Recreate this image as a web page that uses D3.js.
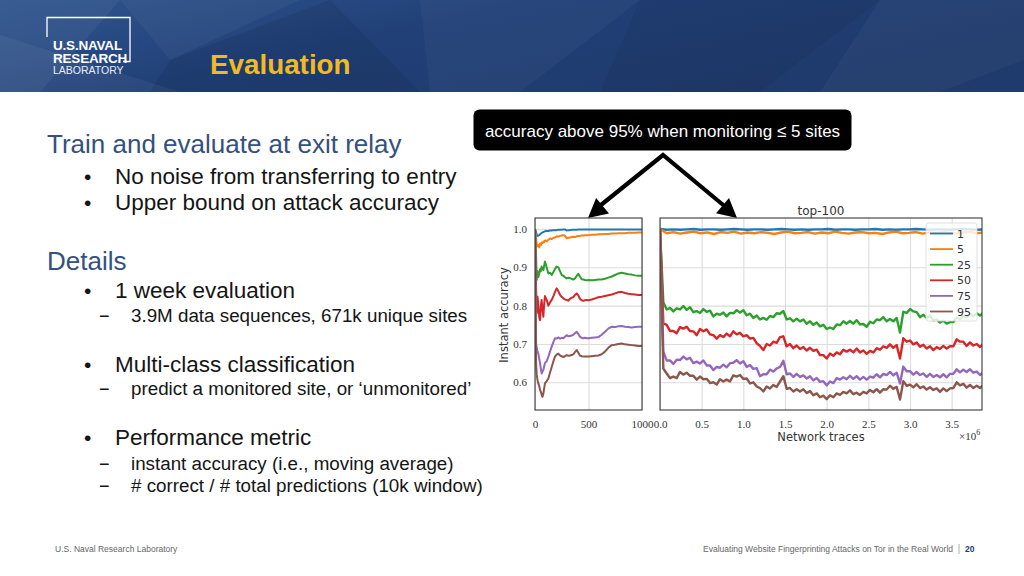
<!DOCTYPE html>
<html><head><meta charset="utf-8">
<script src="https://cdn.jsdelivr.net/npm/d3@7"></script>
<style>body{margin:0;background:#fff;}svg{display:block;}</style>
</head><body><svg id="c" width="1024" height="576"></svg>
<script>
// ---------------- DATA ----------------
const seriesNames = ["1","5","25","50","75","95"];
const seriesColors = ["#1f77b4","#ff7f0e","#2ca02c","#d62728","#9467bd","#8c564b"];
const yTicks = [0.6,0.7,0.8,0.9,1.0];
const leftXTicks = [0,500,1000];
const rightXTicks = [0,0.5,1.0,1.5,2.0,2.5,3.0,3.5];

// left panel: first 1000 network traces
const leftX = [0,10,16,24,31,40,47,55,62,70,78,86,93,109,125,140,156,172,187,202,
218,234,249,265,280,296,312,327,343,358,374,390,405,420,436,452,467,483,498,530,
561,592,623,654,685,717,748,779,810,841,872,904,935,966,1000];
const left1 = [1.000,0.992,0.985,0.982,0.983,0.984,0.986,0.988,0.990,0.991,
0.992,0.993,0.994,0.995,0.995,0.996,0.996,0.997,0.997,0.997,
0.998,0.998,0.998,0.999,0.999,0.996,0.997,0.997,0.998,0.998,
0.998,0.998,0.999,0.999,0.999,0.999,0.999,0.999,0.999,0.999,
0.999,0.999,0.999,0.999,0.999,0.999,0.999,0.999,0.999,0.999,
0.999,0.999,0.999,0.999,0.999];
const left5 = [1.000,0.975,0.960,0.955,0.958,0.952,0.962,0.958,0.965,0.963,
0.967,0.966,0.970,0.968,0.972,0.975,0.974,0.977,0.978,0.981,
0.980,0.982,0.983,0.984,0.982,0.976,0.977,0.978,0.979,0.980,
0.979,0.981,0.982,0.982,0.983,0.983,0.984,0.984,0.984,0.985,
0.985,0.986,0.986,0.987,0.987,0.988,0.988,0.989,0.989,0.989,
0.990,0.990,0.990,0.991,0.991];
const left25 = [1.000,0.930,0.867,0.890,0.875,0.884,0.895,0.890,0.902,0.897,
0.893,0.905,0.915,0.900,0.884,0.886,0.880,0.888,0.896,0.902,
0.900,0.890,0.880,0.878,0.874,0.871,0.873,0.872,0.870,0.868,
0.871,0.878,0.883,0.876,0.869,0.868,0.867,0.866,0.867,0.866,
0.867,0.868,0.868,0.870,0.873,0.876,0.880,0.884,0.886,0.884,
0.882,0.881,0.879,0.878,0.878];
const left50 = [1.000,0.850,0.780,0.823,0.800,0.770,0.762,0.800,0.815,0.790,
0.771,0.805,0.825,0.815,0.800,0.808,0.815,0.825,0.836,0.845,
0.838,0.828,0.823,0.819,0.816,0.815,0.813,0.818,0.821,0.822,
0.828,0.832,0.827,0.818,0.814,0.813,0.814,0.815,0.814,0.816,
0.819,0.822,0.823,0.825,0.827,0.829,0.832,0.835,0.836,0.833,
0.831,0.830,0.829,0.828,0.828];
const left75 = [1.000,0.700,0.690,0.680,0.675,0.660,0.650,0.635,0.623,0.628,
0.632,0.642,0.650,0.655,0.667,0.680,0.693,0.705,0.715,0.714,
0.717,0.714,0.716,0.715,0.719,0.723,0.720,0.721,0.722,0.724,
0.728,0.732,0.726,0.719,0.716,0.715,0.716,0.715,0.715,0.716,
0.717,0.718,0.724,0.732,0.740,0.745,0.744,0.746,0.747,0.745,
0.744,0.743,0.744,0.745,0.745];
const left95 = [1.000,0.650,0.620,0.605,0.597,0.590,0.580,0.575,0.568,0.562,
0.570,0.585,0.597,0.603,0.610,0.625,0.640,0.655,0.667,0.672,
0.675,0.670,0.668,0.666,0.668,0.671,0.669,0.670,0.671,0.673,
0.679,0.684,0.677,0.670,0.668,0.667,0.667,0.667,0.667,0.668,
0.669,0.670,0.673,0.680,0.690,0.697,0.698,0.700,0.701,0.699,
0.698,0.697,0.696,0.695,0.695];

// right panel: full week, samples evenly spaced from 0 to rightLastX (x 1e6 traces)
const rightLastX = 3.88;
const right1 = [1.000,0.998,0.999,0.998,0.999,1.000,0.998,0.999,0.999,0.998,
0.999,1.000,0.999,0.998,0.999,0.999,0.998,0.999,1.000,0.999,
0.998,0.999,0.998,0.999,0.999,1.000,0.998,0.999,0.999,0.998,
0.999,0.999,1.000,0.998,0.999,0.998,0.999,0.999,1.000,0.999,
0.998,0.999,0.999,0.998,0.999,1.000,0.999,0.998,0.999];
const right5 = [1.000,0.989,0.992,0.988,0.991,0.993,0.989,0.991,0.987,0.992,
0.990,0.993,0.988,0.991,0.989,0.992,0.990,0.987,0.991,0.993,
0.989,0.990,0.992,0.988,0.991,0.989,0.993,0.990,0.988,0.991,
0.992,0.989,0.990,0.987,0.991,0.993,0.989,0.990,0.992,0.988,
0.991,0.989,0.992,0.990,0.988,0.991,0.993,0.989,0.991];
const right25 = [1.000,0.809,0.790,0.794,0.785,0.793,0.790,0.799,0.789,0.796,
0.783,0.786,0.781,0.791,0.784,0.787,0.772,0.779,0.776,0.782,
0.772,0.781,0.780,0.788,0.782,0.788,0.775,0.779,0.768,0.774,
0.764,0.768,0.763,0.773,0.770,0.780,0.779,0.786,0.764,0.767,
0.759,0.766,0.759,0.764,0.753,0.759,0.750,0.756,0.746,0.750,
0.739,0.743,0.739,0.751,0.749,0.759,0.753,0.760,0.753,0.762,
0.751,0.752,0.745,0.758,0.754,0.764,0.762,0.770,0.759,0.765,
0.759,0.768,0.730,0.784,0.781,0.791,0.785,0.783,0.770,0.776,
0.768,0.774,0.762,0.764,0.756,0.761,0.753,0.757,0.757,0.769,
0.764,0.773,0.769,0.779,0.773,0.780,0.774,0.782];
const right50 = [1.000,0.754,0.750,0.734,0.734,0.728,0.744,0.740,0.745,0.734,
0.733,0.723,0.739,0.733,0.738,0.725,0.723,0.714,0.723,0.718,
0.727,0.720,0.733,0.725,0.729,0.720,0.723,0.714,0.716,0.702,
0.695,0.684,0.700,0.696,0.706,0.703,0.718,0.720,0.694,0.700,
0.689,0.696,0.687,0.692,0.683,0.690,0.682,0.685,0.671,0.671,
0.662,0.675,0.669,0.678,0.673,0.685,0.680,0.685,0.678,0.688,
0.678,0.683,0.674,0.682,0.678,0.689,0.685,0.694,0.690,0.699,
0.690,0.697,0.662,0.715,0.706,0.709,0.699,0.704,0.693,0.698,
0.688,0.694,0.684,0.692,0.687,0.695,0.688,0.694,0.694,0.712,
0.706,0.706,0.695,0.704,0.696,0.700,0.692,0.701];
const right75 = [1.000,0.680,0.657,0.657,0.648,0.659,0.658,0.667,0.660,0.664,
0.650,0.654,0.649,0.657,0.644,0.644,0.632,0.640,0.638,0.646,
0.639,0.650,0.651,0.658,0.649,0.655,0.640,0.645,0.635,0.637,
0.616,0.621,0.621,0.633,0.628,0.636,0.640,0.656,0.621,0.623,
0.614,0.622,0.614,0.618,0.610,0.616,0.605,0.611,0.601,0.603,
0.592,0.602,0.598,0.611,0.607,0.613,0.608,0.617,0.609,0.616,
0.607,0.614,0.607,0.615,0.612,0.621,0.613,0.622,0.619,0.627,
0.618,0.625,0.597,0.641,0.629,0.629,0.620,0.627,0.619,0.623,
0.614,0.622,0.614,0.619,0.613,0.621,0.613,0.622,0.622,0.634,
0.626,0.633,0.627,0.634,0.625,0.628,0.619,0.627];
const right95 = [1.000,0.636,0.623,0.611,0.615,0.611,0.627,0.620,0.625,0.617,
0.617,0.607,0.615,0.608,0.609,0.598,0.600,0.594,0.608,0.602,
0.607,0.602,0.618,0.615,0.619,0.609,0.610,0.597,0.600,0.589,
0.585,0.576,0.589,0.584,0.593,0.588,0.602,0.616,0.583,0.585,
0.576,0.582,0.576,0.582,0.572,0.577,0.566,0.571,0.561,0.565,
0.556,0.566,0.561,0.571,0.567,0.575,0.571,0.579,0.569,0.573,
0.567,0.575,0.571,0.580,0.574,0.582,0.573,0.582,0.581,0.591,
0.583,0.588,0.555,0.603,0.591,0.594,0.587,0.595,0.585,0.589,
0.581,0.587,0.580,0.584,0.575,0.584,0.577,0.584,0.585,0.600,
0.592,0.596,0.586,0.593,0.585,0.591,0.585,0.593];

const leftSeries = [left1,left5,left25,left50,left75,left95];
const rightSeries = [right1,right5,right25,right50,right75,right95];

// ---------------- DRAW ----------------
const svg = d3.select("#c");
const SANS = "'Liberation Sans', Arial, sans-serif";
const PLOT = "'DejaVu Sans', sans-serif";
const SERIF = "'Liberation Serif', 'DejaVu Serif', serif";
const defs = svg.append("defs");

// header
const hg = defs.append("linearGradient").attr("id","hg").attr("x1","0").attr("x2","1").attr("y1","0").attr("y2","0.4");
hg.append("stop").attr("offset","0").attr("stop-color","#2f558d");
hg.append("stop").attr("offset","0.45").attr("stop-color","#214078");
hg.append("stop").attr("offset","1").attr("stop-color","#1f3a6c");
svg.append("rect").attr("x",0).attr("y",0).attr("width",1024).attr("height",92).attr("fill","url(#hg)");
const shards = [
  {p:[[0,0],[120,0],[40,92],[0,92]], c:"#ffffff", o:0.05},
  {p:[[0,35],[180,92],[0,92]], c:"#ffffff", o:0.05},
  {p:[[120,0],[300,0],[170,60]], c:"#ffffff", o:0.04},
  {p:[[170,60],[330,0],[420,92],[150,92]], c:"#000000", o:0.08},
  {p:[[420,0],[640,0],[520,92],[430,92]], c:"#ffffff", o:0.035},
  {p:[[640,0],[880,0],[760,92],[600,92]], c:"#000000", o:0.06},
  {p:[[880,0],[1024,0],[1024,60],[940,92],[820,92]], c:"#ffffff", o:0.03}
];
svg.append("g").selectAll("polygon").data(shards).join("polygon")
  .attr("points",d=>d.p.map(q=>q.join(",")).join(" "))
  .attr("fill",d=>d.c).attr("opacity",d=>d.o);

// logo
svg.append("path").attr("d","M47,37 L47,17.5 L130,17.5 L130,61.5 L123,61.5")
  .attr("fill","none").attr("stroke","#fff").attr("stroke-width",1.3);
svg.append("text").attr("x",53).attr("y",49.5).text("U.S.NAVAL")
  .attr("font-family",SANS).attr("font-weight","bold").attr("font-size",13.5).attr("fill","#fff").attr("letter-spacing",-0.2);
svg.append("text").attr("x",53).attr("y",63).text("RESEARCH")
  .attr("font-family",SANS).attr("font-weight","bold").attr("font-size",13.5).attr("fill","#fff").attr("letter-spacing",-0.2);
svg.append("text").attr("x",53).attr("y",74).text("LABORATORY")
  .attr("font-family",SANS).attr("font-size",10.5).attr("fill","#e8eef8");
svg.append("text").attr("x",210).attr("y",73.5).text("Evaluation")
  .attr("font-family",SANS).attr("font-weight","bold").attr("font-size",27.8).attr("fill","#f3b91f");

// left text block
const blue = "#34507f", dark = "#151515";
function t(x,yy,s,size,col){ svg.append("text").attr("x",x).attr("y",yy).text(s)
  .attr("font-family",SANS).attr("font-size",size).attr("fill",col); }
t(47,153,"Train and evaluate at exit relay",26,blue);
t(84,184,"•",21,dark); t(115,184,"No noise from transferring to entry",22.5,dark);
t(84,210,"•",21,dark); t(115,210,"Upper bound on attack accuracy",22.5,dark);
t(47,270,"Details",26,blue);
t(84,298,"•",21,dark); t(115,298,"1 week evaluation",22.5,dark);
t(99,322,"−",18,dark); t(131,322,"3.9M data sequences, 671k unique sites",18.8,dark);
t(84,372,"•",21,dark); t(115,372,"Multi-class classification",22.5,dark);
t(99,395,"−",18,dark); t(131,395,"predict a monitored site, or ‘unmonitored’",18.8,dark);
t(84,445,"•",21,dark); t(115,445,"Performance metric",22.5,dark);
t(99,470,"−",18,dark); t(131,470,"instant accuracy (i.e., moving average)",18.8,dark);
t(99,492,"−",18,dark); t(131,492,"# correct / # total predictions (10k window)",18.8,dark);

// callout
svg.append("rect").attr("x",473.5).attr("y",109.5).attr("width",378).attr("height",41).attr("rx",6)
  .attr("fill","#000");
svg.append("text").attr("x",662.5).attr("y",136.5).attr("text-anchor","middle")
  .text("accuracy above 95% when monitoring ≤ 5 sites")
  .attr("font-family",SANS).attr("font-size",17).attr("fill","#fff");
// arrows
const apex = [663,155];
svg.append("path").attr("d",`M596,209 L${apex[0]},${apex[1]} L728,209`)
  .attr("fill","none").attr("stroke","#000").attr("stroke-width",4.2).attr("stroke-linejoin","miter");
function head(tip, from){
  const dx = tip[0]-from[0], dy = tip[1]-from[1], L = Math.hypot(dx,dy);
  const ux = dx/L, uy = dy/L, len = 19, hw = 10;
  const bx = tip[0]-ux*len, by = tip[1]-uy*len;
  return [[tip[0],tip[1]],[bx-uy*hw,by+ux*hw],[bx+uy*hw,by-ux*hw]].map(p=>p.join(",")).join(" ");
}
svg.append("polygon").attr("points",head([588,218],apex)).attr("fill","#000");
svg.append("polygon").attr("points",head([737,218],apex)).attr("fill","#000");

// ---------- chart ----------
const pTop = 218, pBottom = 410;
const y = d3.scaleLinear().domain([0.5277,1.0287]).range([pBottom,pTop]);
const xL = d3.scaleLinear().domain([0,1000]).range([535,642]);
const xR = d3.scaleLinear().domain([0,3.864]).range([660,982]);
const gridCol = "#dcdcdc";

function panel(id, x, xticks, fmt, series, xsFor, sw){
  const [x0,x1] = x.range();
  const g = svg.append("g");
  defs.append("clipPath").attr("id",id).append("rect").attr("x",x0).attr("y",pTop).attr("width",x1-x0).attr("height",pBottom-pTop);
  g.append("rect").attr("x",x0).attr("y",pTop).attr("width",x1-x0).attr("height",pBottom-pTop).attr("fill","#fff");
  g.append("g").call(d3.axisBottom(x).tickValues(xticks).tickSize(-(pBottom-pTop)).tickFormat(""))
    .attr("transform",`translate(0,${pBottom})`)
    .call(a=>a.select(".domain").remove())
    .call(a=>a.selectAll("line").attr("stroke",gridCol).attr("stroke-width",1.1));
  g.append("g").call(d3.axisLeft(y).tickValues(yTicks).tickSize(-(x1-x0)).tickFormat(""))
    .attr("transform",`translate(${x0},0)`)
    .call(a=>a.select(".domain").remove())
    .call(a=>a.selectAll("line").attr("stroke",gridCol).attr("stroke-width",1.1));
  g.append("g").attr("transform",`translate(0,${pBottom})`)
    .call(d3.axisBottom(x).tickValues(xticks).tickSize(0).tickPadding(10).tickFormat(fmt))
    .call(a=>a.select(".domain").remove())
    .call(a=>a.selectAll("text").attr("font-family",SERIF).attr("font-size",11).attr("fill","#333"));
  const lg = g.append("g").attr("clip-path",`url(#${id})`);
  series.forEach((vals,k)=>{
    const xs = xsFor(vals);
    const line = d3.line().x((d,i)=>x(xs[i])).y(d=>y(d));
    lg.append("path").datum(vals).attr("d",line).attr("fill","none")
      .attr("stroke",seriesColors[k]).attr("stroke-width",sw).attr("stroke-linejoin","round");
  });
  g.append("rect").attr("x",x0).attr("y",pTop).attr("width",x1-x0).attr("height",pBottom-pTop)
    .attr("fill","none").attr("stroke","#3a3a3a").attr("stroke-width",1.1);
  return g;
}

const gl = panel("clipL", xL, leftXTicks, d3.format("d"), leftSeries, ()=>leftX, 2);
gl.append("g").attr("transform","translate(535,0)")
  .call(d3.axisLeft(y).tickValues(yTicks).tickSize(0).tickPadding(8).tickFormat(d3.format(".1f")))
  .call(a=>a.select(".domain").remove())
  .call(a=>a.selectAll("text").attr("font-family",SERIF).attr("font-size",11).attr("fill","#333"));

const gr = panel("clipR", xR, rightXTicks, d3.format(".1f"), rightSeries,
  vals => vals.map((v,i)=> i*rightLastX/(vals.length-1)), 2.4);

// labels
svg.append("text").attr("transform","translate(508,315) rotate(-90)").attr("text-anchor","middle")
  .text("Instant accuracy").attr("font-family",PLOT).attr("font-size",11.5).attr("fill","#333");
svg.append("text").attr("x",821).attr("y",441).attr("text-anchor","middle")
  .text("Network traces").attr("font-family",PLOT).attr("font-size",11.5).attr("fill","#333");
svg.append("text").attr("x",821).attr("y",214.5).attr("text-anchor","middle")
  .text("top-100").attr("font-family",PLOT).attr("font-size",12).attr("fill","#333");
const mult = svg.append("text").attr("x",959).attr("y",440).attr("font-family",SERIF).attr("font-size",11).attr("fill","#333");
mult.append("tspan").text("×10");
mult.append("tspan").attr("dy",-5).attr("font-size",8).text("6");

// legend
const lgd = svg.append("g");
lgd.append("rect").attr("x",926).attr("y",223).attr("width",51).attr("height",98).attr("rx",2.5)
  .attr("fill","#fff").attr("fill-opacity",0.82).attr("stroke","#d8d8d8").attr("stroke-width",0.8);
const ly = d3.scalePoint().domain(seriesNames).range([233.5,311.5]);
lgd.selectAll("line").data(seriesNames).join("line")
  .attr("x1",930).attr("x2",953).attr("y1",d=>ly(d)).attr("y2",d=>ly(d))
  .attr("stroke",(d,i)=>seriesColors[i]).attr("stroke-width",1.8);
lgd.selectAll("text").data(seriesNames).join("text")
  .attr("x",957).attr("y",d=>ly(d)+4).text(d=>d)
  .attr("font-family",PLOT).attr("font-size",11).attr("fill","#333");

// footer
svg.append("text").attr("x",55).attr("y",552).text("U.S. Naval Research Laboratory")
  .attr("font-family",SANS).attr("font-size",8.5).attr("fill","#666");
svg.append("text").attr("x",953).attr("y",552).attr("text-anchor","end")
  .text("Evaluating Website Fingerprinting Attacks on Tor in the Real World")
  .attr("font-family",SANS).attr("font-size",8.5).attr("fill","#666");
svg.append("line").attr("x1",959).attr("x2",959).attr("y1",544).attr("y2",554).attr("stroke","#999").attr("stroke-width",0.8);
svg.append("text").attr("x",965).attr("y",552).text("20")
  .attr("font-family",SANS).attr("font-weight","bold").attr("font-size",8.5).attr("fill","#1f3a6e");
</script></body></html>
